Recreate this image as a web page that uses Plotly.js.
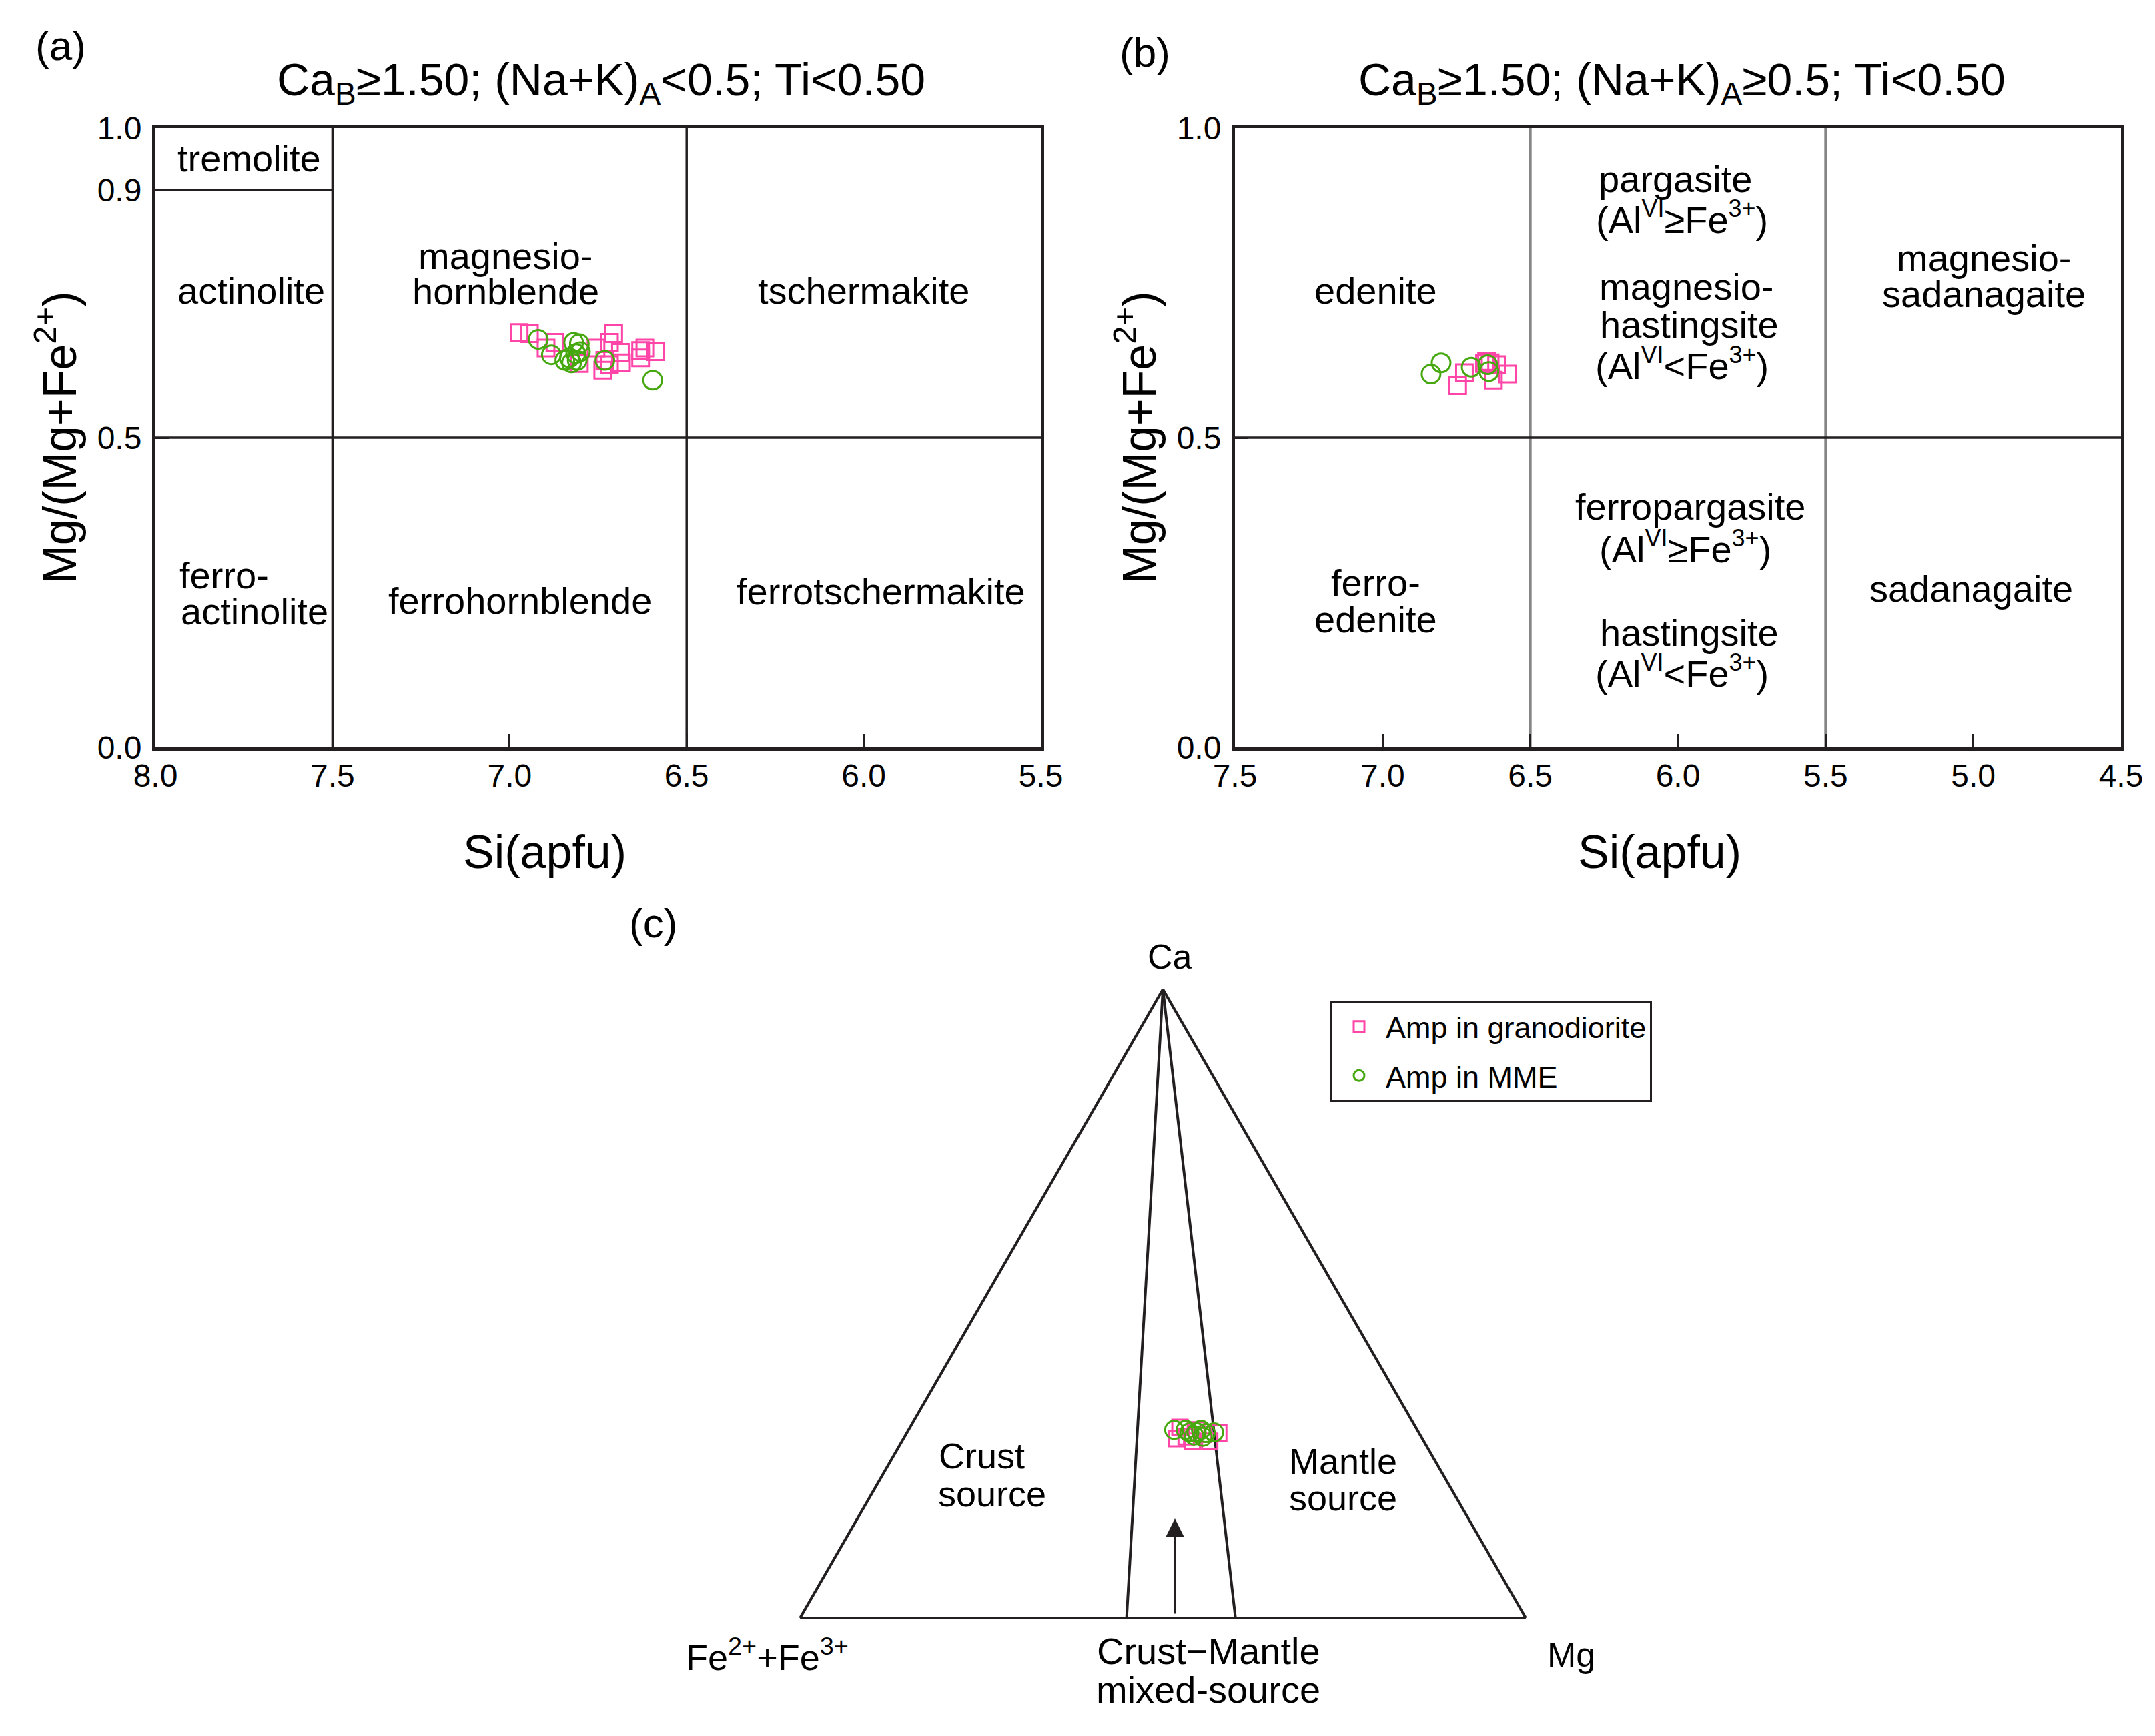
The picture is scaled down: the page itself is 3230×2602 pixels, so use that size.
<!DOCTYPE html>
<html>
<head>
<meta charset="utf-8">
<script src="https://cdn.plot.ly/plotly-3.0.1.min.js"></script>
<style>html,body{margin:0;padding:0;background:#fff;}</style>
</head>
<body>
<div id="chart" style="width:3230px;height:2602px;"></div>
<script>
// ---------- data ----------
// (a) Ca-amphibole, (Na+K)A < 0.5
const graniteA_si = [6.973, 6.944, 6.897, 6.872, 6.803, 6.756, 6.706, 6.718, 6.731, 6.737, 6.718, 6.687, 6.684, 6.630, 6.630, 6.618, 6.587];
const graniteA_mg = [0.670, 0.668, 0.645, 0.654, 0.620, 0.645, 0.668, 0.654, 0.625, 0.609, 0.618, 0.638, 0.621, 0.641, 0.629, 0.645, 0.639];
const mmeA_si = [6.919, 6.882, 6.819, 6.803, 6.831, 6.844, 6.813, 6.800, 6.809, 6.731, 6.596, 6.825];
const mmeA_mg = [0.659, 0.634, 0.654, 0.652, 0.629, 0.625, 0.636, 0.639, 0.625, 0.625, 0.593, 0.621];
// (b) Ca-amphibole, (Na+K)A >= 0.5
const graniteB_si = [6.746, 6.723, 6.648, 6.636, 6.614, 6.625, 6.576, 6.655];
const graniteB_mg = [0.584, 0.605, 0.623, 0.621, 0.618, 0.593, 0.603, 0.620];
const mmeB_si = [6.802, 6.836, 6.700, 6.640, 6.644];
const mmeB_mg = [0.621, 0.603, 0.614, 0.607, 0.618];
// (c) Ca - (Fe2+ + Fe3+) - Mg ternary
const graniteT_ca = [0.303, 0.288, 0.281, 0.292, 0.294, 0.285, 0.299, 0.281];
const graniteT_fe = [0.325, 0.324, 0.319, 0.298, 0.276, 0.339, 0.304, 0.295];
const graniteT_mg = [0.372, 0.388, 0.400, 0.410, 0.430, 0.376, 0.397, 0.424];
const mmeT_ca = [0.299, 0.295, 0.295, 0.299, 0.294, 0.295, 0.290, 0.288, 0.299];
const mmeT_fe = [0.335, 0.316, 0.306, 0.298, 0.294, 0.282, 0.312, 0.301, 0.319];
const mmeT_mg = [0.366, 0.389, 0.399, 0.403, 0.412, 0.423, 0.398, 0.411, 0.382];

// field boundaries
const boundA_x = [7.5, 7.5, null, 8.0, 7.5, null, 6.5, 6.5, null, 8.0, 5.5];
const boundA_y = [0, 1, null, 0.9, 0.9, null, 0, 1, null, 0.5, 0.5];
const boundB_gray_x = [6.5, 6.5, null, 5.5, 5.5];
const boundB_gray_y = [0, 1, null, 0, 1];
const boundB_x = [7.5, 4.5];
const boundB_y = [0.5, 0.5];
const divT1 = {a: [1, 0], b: [0, 0.55], c: [0, 0.45]};
const divT2 = {a: [1, 0], b: [0, 0.40], c: [0, 0.60]};

// tick labels
const xTicksA = [8.0, 7.5, 7.0, 6.5, 6.0, 5.5];
const xTickTextA = ['8.0', '7.5', '7.0', '6.5', '6.0', '5.5'];
const yTicksA = [0, 0.5, 0.9, 1.0];
const yTickTextA = ['0.0', '0.5', '0.9', '1.0'];
const xTicksB = [7.5, 7.0, 6.5, 6.0, 5.5, 5.0, 4.5];
const xTickTextB = ['7.5', '7.0', '6.5', '6.0', '5.5', '5.0', '4.5'];
const yTicksB = [0, 0.5, 1.0];
const yTickTextB = ['0.0', '0.5', '1.0'];

// small superscripts for the field labels
const sp = t => '<sup><span style="font-size:36px">' + t + '</span></sup>';
const AL_GE = '(Al' + sp('VI') + '≥Fe' + sp('3+') + ')';
const AL_LT = '(Al' + sp('VI') + '&lt;Fe' + sp('3+') + ')';

// field labels [text, x, y]
const labelsA = [
  ['tremolite', 7.736, 0.951],
  ['actinolite', 7.729, 0.738],
  ['magnesio-', 7.011, 0.794],
  ['hornblende', 7.011, 0.736],
  ['tschermakite', 6.001, 0.738],
  ['ferro-', 7.806, 0.277],
  ['actinolite', 7.721, 0.219],
  ['ferrohornblende', 6.971, 0.237],
  ['ferrotschermakite', 5.952, 0.252]
];
const labelsB = [
  ['edenite', 7.023, 0.738],
  ['pargasite', 6.009, 0.918],
  [AL_GE, 5.987, 0.855],
  ['magnesio-', 5.971, 0.744],
  ['hastingsite', 5.962, 0.683],
  [AL_LT, 5.987, 0.619],
  ['magnesio-', 4.965, 0.790],
  ['sadanagaite', 4.965, 0.732],
  ['ferro-', 7.023, 0.266],
  ['edenite', 7.023, 0.206],
  ['ferropargasite', 5.957, 0.388],
  [AL_GE, 5.975, 0.323],
  ['hastingsite', 5.962, 0.185],
  [AL_LT, 5.987, 0.122],
  ['sadanagaite', 5.008, 0.256]
];

// ---------- styles ----------
const FONT = 'Liberation Sans, Arial, Helvetica, sans-serif';
const INK = '#231f20';
const PINK = '#ff45a8';
const GREEN = '#46a80f';
const sqMarker = {symbol: 'square-open', size: 25, color: PINK, line: {width: 3, color: PINK}};
const ciMarker = {symbol: 'circle-open', size: 28, color: GREEN, line: {width: 3, color: GREEN}};

const traces = [
  {type: 'scatter', mode: 'lines', x: boundA_x, y: boundA_y, xaxis: 'x', yaxis: 'y', line: {color: INK, width: 3.5}, showlegend: false, hoverinfo: 'skip'},
  {type: 'scatter', mode: 'lines', x: boundB_gray_x, y: boundB_gray_y, xaxis: 'x2', yaxis: 'y2', line: {color: '#858585', width: 4}, showlegend: false, hoverinfo: 'skip'},
  {type: 'scatter', mode: 'lines', x: boundB_x, y: boundB_y, xaxis: 'x2', yaxis: 'y2', line: {color: INK, width: 3.5}, showlegend: false, hoverinfo: 'skip'},
  {type: 'scatter', mode: 'markers', x: graniteA_si, y: graniteA_mg, xaxis: 'x', yaxis: 'y', marker: sqMarker, legendgroup: 'g', showlegend: false, name: 'Amp in granodiorite'},
  {type: 'scatter', mode: 'markers', x: mmeA_si, y: mmeA_mg, xaxis: 'x', yaxis: 'y', marker: ciMarker, legendgroup: 'm', showlegend: false, name: 'Amp in MME'},
  {type: 'scatter', mode: 'markers', x: graniteB_si, y: graniteB_mg, xaxis: 'x2', yaxis: 'y2', marker: sqMarker, legendgroup: 'g', showlegend: false, name: 'Amp in granodiorite'},
  {type: 'scatter', mode: 'markers', x: mmeB_si, y: mmeB_mg, xaxis: 'x2', yaxis: 'y2', marker: ciMarker, legendgroup: 'm', showlegend: false, name: 'Amp in MME'},
  {type: 'scatterternary', mode: 'lines', a: divT1.a, b: divT1.b, c: divT1.c, line: {color: INK, width: 4}, showlegend: false, hoverinfo: 'skip'},
  {type: 'scatterternary', mode: 'lines', a: divT2.a, b: divT2.b, c: divT2.c, line: {color: INK, width: 4}, showlegend: false, hoverinfo: 'skip'},
  {type: 'scatterternary', mode: 'markers', a: graniteT_ca, b: graniteT_fe, c: graniteT_mg, marker: {symbol: 'square-open', size: 23, color: PINK, line: {width: 3, color: PINK}}, legendgroup: 'g', name: 'Amp in granodiorite'},
  {type: 'scatterternary', mode: 'markers', a: mmeT_ca, b: mmeT_fe, c: mmeT_mg, marker: {symbol: 'circle-open', size: 27, color: GREEN, line: {width: 3, color: GREEN}}, legendgroup: 'm', name: 'Amp in MME'}
];

function axisBase(extra) {
  return Object.assign({
    showline: true, linecolor: INK, linewidth: 5, mirror: true,
    ticks: 'inside', ticklen: 20, tickwidth: 3, tickcolor: INK,
    showgrid: false, zeroline: false,
    tickfont: {family: FONT, size: 48, color: '#000'}
  }, extra);
}

const W = 3230, H = 2602;
const px = v => v / W;
const py = v => 1 - v / H;

const annotations = [];
function ann(text, x, y, size, opts) {
  annotations.push(Object.assign({text: text, x: x, y: y, xref: 'paper', yref: 'paper', showarrow: false,
    xanchor: 'center', yanchor: 'middle', font: {family: FONT, size: size, color: '#000'}}, opts || {}));
}
labelsA.forEach(l => ann(l[0], l[1], l[2], 56, {xref: 'x', yref: 'y'}));
labelsB.forEach(l => ann(l[0], l[1], l[2], 56, {xref: 'x2', yref: 'y2'}));

// panel letters and titles
ann('(a)', px(91), py(68), 62);
ann('(b)', px(1716), py(78), 62);
ann('(c)', px(979), py(1383), 62);
ann('Ca<sub>B</sub>≥1.50; (Na+K)<sub>A</sub>&lt;0.5; Ti&lt;0.50', px(901), py(124), 68);
ann('Ca<sub>B</sub>≥1.50; (Na+K)<sub>A</sub>≥0.5; Ti&lt;0.50', px(2521), py(124), 68);
// x axis titles (offset left of centre, as in the reference)
ann('Si(apfu)', px(816), py(1277), 70);
ann('Si(apfu)', px(2487), py(1277), 70);

// ternary labels
ann('Ca', px(1753), py(1434), 52);
ann('Fe<sup>2+</sup>+Fe<sup>3+</sup>', px(1150), py(2480), 54);
ann('Mg', px(2355), py(2480), 52);
ann('Crust', px(1471), py(2182), 54);
ann('source', px(1487), py(2239), 54);
ann('Mantle', px(2013), py(2190), 54);
ann('source', px(2013), py(2245), 54);
ann('Crust−Mantle', px(1811), py(2474), 56);
ann('mixed-source', px(1811), py(2532), 56);
// arrow
annotations.push({x: px(1761), y: py(2276), xref: 'paper', yref: 'paper', ax: 0, ay: 144, axref: 'pixel', ayref: 'pixel',
  text: '', showarrow: true, arrowhead: 2, arrowsize: 2.2, arrowwidth: 2.5, arrowcolor: INK});

const hiddenTernAxis = {showline: true, linecolor: INK, linewidth: 4, showgrid: false, showticklabels: false, ticks: '', title: {text: ''}};

const yTitleFont = {family: FONT, size: 70, color: '#000'};

const layout = {
  width: W, height: H,
  margin: {l: 0, r: 0, t: 0, b: 0},
  paper_bgcolor: '#fff', plot_bgcolor: '#fff',
  font: {family: FONT, color: '#000'},
  xaxis: axisBase({domain: [px(233), px(1560)], range: [8.0, 5.5], anchor: 'y', tickvals: xTicksA, ticktext: xTickTextA, ticklabelstandoff: -4}),
  yaxis: axisBase({domain: [py(1120), py(192)], range: [0, 1], anchor: 'x', tickvals: yTicksA, ticktext: yTickTextA, ticklabelstandoff: 6,
    title: {text: 'Mg/(Mg+Fe<sup>2+</sup>)', font: yTitleFont, standoff: 10}}),
  xaxis2: axisBase({domain: [px(1851), px(3179)], range: [7.5, 4.5], anchor: 'y2', tickvals: xTicksB, ticktext: xTickTextB, ticklabelstandoff: -4}),
  yaxis2: axisBase({domain: [py(1120), py(192)], range: [0, 1], anchor: 'x2', tickvals: yTicksB, ticktext: yTickTextB, ticklabelstandoff: 6,
    title: {text: 'Mg/(Mg+Fe<sup>2+</sup>)', font: yTitleFont, standoff: 10}}),
  ternary: {
    domain: {x: [px(1199), px(2287)], y: [py(2425), py(1483)]},
    sum: 1, bgcolor: 'rgba(0,0,0,0)',
    aaxis: hiddenTernAxis, baxis: hiddenTernAxis, caxis: hiddenTernAxis
  },
  showlegend: true,
  legend: {x: px(1994), y: py(1500), xanchor: 'left', yanchor: 'top', bgcolor: '#fff', bordercolor: INK, borderwidth: 3,
    font: {family: FONT, size: 45, color: '#000'}, traceorder: 'grouped', tracegroupgap: 12, itemsizing: 'trace', itemwidth: 70},
  annotations: annotations
};

Plotly.newPlot('chart', traces, layout, {staticPlot: true, displayModeBar: false});
</script>
</body>
</html>
